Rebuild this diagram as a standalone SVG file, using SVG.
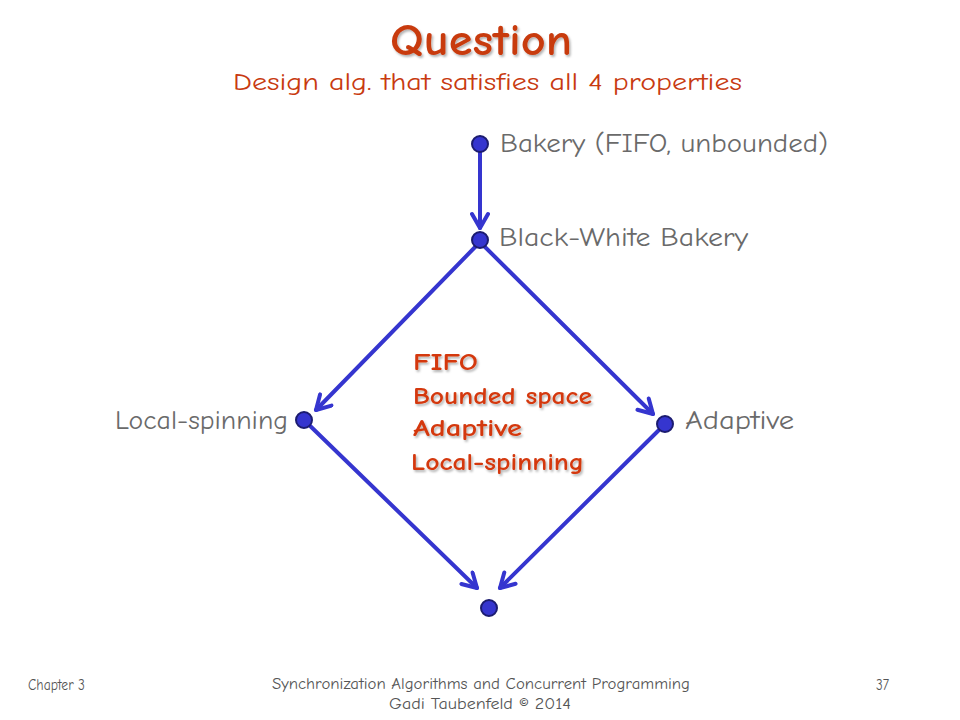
<svg xmlns="http://www.w3.org/2000/svg" width="960" height="720" viewBox="0 0 960 720">
<defs>
<style>
text{font-family:"Comic Neue","Open Sans","Liberation Sans",sans-serif}
.node{fill:#3535cf;stroke:#1c1c70;stroke-width:2}
.edge{stroke:#3535cf;stroke-width:4;fill:none;stroke-linecap:round}
.lbl{font-size:26px;fill:#6a6a6a}
.red{font-size:25px;font-weight:bold;fill:#d4380d}
.foot{font-size:15px;fill:#555}
</style>
<marker id="ah" viewBox="0 0 20 20" refX="17" refY="10" markerWidth="20" markerHeight="20" markerUnits="userSpaceOnUse" orient="auto">
<path d="M3,2 L17,10 L3,18" fill="none" stroke="#3535cf" stroke-width="4" stroke-linecap="round" stroke-linejoin="round"/>
</marker>
<filter id="sh" x="-10%" y="-10%" width="120%" height="130%">
<feDropShadow dx="1.5" dy="2" stdDeviation="1.2" flood-color="#000" flood-opacity="0.3"/>
</filter>
</defs>
<rect width="960" height="720" fill="#ffffff"/>
<g id="title">
<text x="390" y="55" font-size="44" font-weight="bold" fill="#c83a10" filter="url(#sh)" textLength="182" lengthAdjust="spacingAndGlyphs">Question</text>
<text x="233" y="90" font-size="25" fill="#c83a10" textLength="509" lengthAdjust="spacingAndGlyphs">Design alg. that satisfies all 4 properties</text>
</g>
<g id="connectors">
<line class="edge" x1="480" y1="152" x2="480" y2="228" marker-end="url(#ah)"/>
<line class="edge" x1="480" y1="242" x2="316" y2="410" marker-end="url(#ah)"/>
<line class="edge" x1="480" y1="242" x2="653" y2="414" marker-end="url(#ah)"/>
<line class="edge" x1="304" y1="420" x2="477" y2="588" marker-end="url(#ah)"/>
<line class="edge" x1="665" y1="424" x2="500" y2="588" marker-end="url(#ah)"/>
</g>
<g id="n-bakery">
<circle class="node" cx="480" cy="144" r="8"/>
<text class="lbl" x="500" y="152" textLength="328" lengthAdjust="spacingAndGlyphs">Bakery (FIFO, unbounded)</text>
</g>
<g id="n-bwbakery">
<circle class="node" cx="480" cy="240" r="8"/>
<text class="lbl" x="499" y="246" textLength="249" lengthAdjust="spacingAndGlyphs">Black-White Bakery</text>
</g>
<g id="n-local">
<circle class="node" cx="304" cy="420" r="8"/>
<text class="lbl" x="115" y="429" textLength="173" lengthAdjust="spacingAndGlyphs">Local-spinning</text>
</g>
<g id="n-adaptive">
<circle class="node" cx="665" cy="424" r="8"/>
<text class="lbl" x="685" y="429" textLength="109" lengthAdjust="spacingAndGlyphs">Adaptive</text>
</g>
<g id="n-bottom">
<circle class="node" cx="489" cy="608" r="8"/>
</g>
<g id="properties" filter="url(#sh)">
<text class="red" x="413" y="370" textLength="65" lengthAdjust="spacingAndGlyphs">FIFO</text>
<text class="red" x="413" y="404" textLength="179" lengthAdjust="spacingAndGlyphs">Bounded space</text>
<text class="red" x="413" y="436" textLength="109" lengthAdjust="spacingAndGlyphs">Adaptive</text>
<text class="red" x="411" y="470" textLength="173" lengthAdjust="spacingAndGlyphs">Local-spinning</text>
</g>
<g id="footer">
<text class="foot" x="28" y="690" textLength="57" lengthAdjust="spacingAndGlyphs">Chapter 3</text>
<text class="foot" x="272" y="689" textLength="418" lengthAdjust="spacingAndGlyphs">Synchronization Algorithms and Concurrent Programming</text>
<text class="foot" x="389" y="709" textLength="182" lengthAdjust="spacingAndGlyphs">Gadi Taubenfeld © 2014</text>
<text class="foot" x="876" y="690" textLength="13" lengthAdjust="spacingAndGlyphs">37</text>
</g>
</svg>
